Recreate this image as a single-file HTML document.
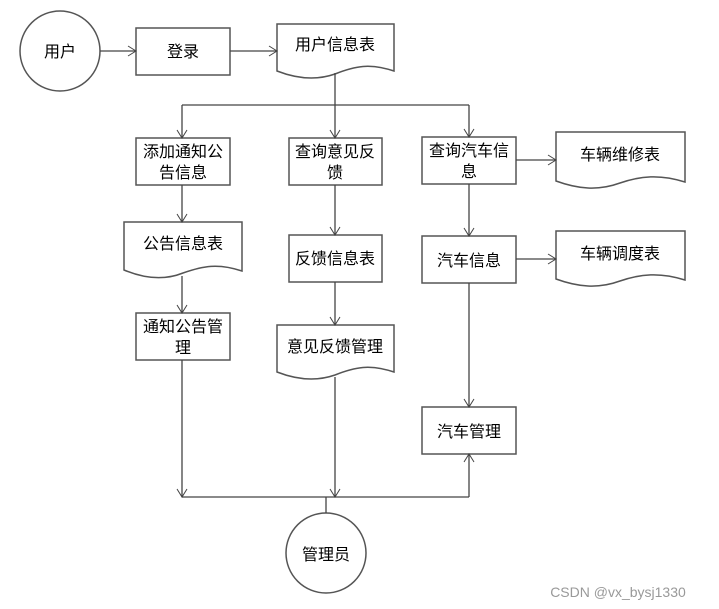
<!DOCTYPE html>
<html><head><meta charset="utf-8"><style>
html,body{margin:0;padding:0;background:#fff;}
svg{display:block;}
text{font-family:"Liberation Sans","Noto Sans CJK SC","WenQuanYi Zen Hei",sans-serif;font-size:16px;fill:#000;text-anchor:middle;}
</style></head><body>
<svg width="719" height="609" viewBox="0 0 719 609" xmlns="http://www.w3.org/2000/svg">
<defs>
<marker id="a" markerWidth="12" markerHeight="12" refX="10" refY="6" orient="auto" markerUnits="userSpaceOnUse">
<path d="M2,1 L10,6 L2,11" fill="none" stroke="#444" stroke-width="1"/>
</marker>
</defs>
<g fill="#fff" stroke="#555" stroke-width="1.5">
<circle cx="60" cy="51" r="40"/>
<rect x="136" y="28" width="94" height="47"/>
<path d="M277,24 L394,24 L394,71 C370,63 355,66 335,74 C315,81 295,78 277,71 Z"/>
<rect x="136" y="138" width="94" height="47"/>
<rect x="289" y="138" width="93" height="47"/>
<rect x="422" y="137" width="94" height="47"/>
<path d="M556,132 L685,132 L685,182 C660,174 640,176 620,183 C598,191 578,189 556,181 Z"/>
<path d="M124,222 L242,222 L242,271 C218,263 203,266 183,273 C163,281 143,278 124,270 Z"/>
<rect x="289" y="235" width="93" height="47"/>
<rect x="422" y="236" width="94" height="47"/>
<path d="M556,231 L685,231 L685,280 C660,272 640,274 620,281 C598,289 578,287 556,279 Z"/>
<rect x="136" y="313" width="94" height="47"/>
<path d="M277,325 L394,325 L394,372 C370,364 355,367 335,375 C315,382 295,379 277,372 Z"/>
<rect x="422" y="407" width="94" height="47"/>
<circle cx="326" cy="553" r="40"/>
</g>
<g fill="none" stroke="#444" stroke-width="1.3">
<line x1="100" y1="51" x2="136" y2="51" marker-end="url(#a)"/>
<line x1="230" y1="51" x2="277" y2="51" marker-end="url(#a)"/>
<line x1="335" y1="73" x2="335" y2="105"/>
<line x1="182" y1="105" x2="469" y2="105"/>
<line x1="182" y1="105" x2="182" y2="138" marker-end="url(#a)"/>
<line x1="335" y1="105" x2="335" y2="138" marker-end="url(#a)"/>
<line x1="469" y1="105" x2="469" y2="137" marker-end="url(#a)"/>
<line x1="516" y1="160" x2="556" y2="160" marker-end="url(#a)"/>
<line x1="182" y1="185" x2="182" y2="222" marker-end="url(#a)"/>
<line x1="335" y1="185" x2="335" y2="235" marker-end="url(#a)"/>
<line x1="469" y1="184" x2="469" y2="236" marker-end="url(#a)"/>
<line x1="516" y1="259" x2="556" y2="259" marker-end="url(#a)"/>
<line x1="182" y1="276" x2="182" y2="313" marker-end="url(#a)"/>
<line x1="335" y1="282" x2="335" y2="325" marker-end="url(#a)"/>
<line x1="469" y1="283" x2="469" y2="407" marker-end="url(#a)"/>
<line x1="182" y1="360" x2="182" y2="497" marker-end="url(#a)"/>
<line x1="335" y1="377" x2="335" y2="497" marker-end="url(#a)"/>
<line x1="182" y1="497" x2="469" y2="497"/>
<line x1="469" y1="497" x2="469" y2="454" marker-end="url(#a)"/>
<line x1="326" y1="497" x2="326" y2="513"/>
</g>
<text x="60" y="57">用户</text>
<text x="183" y="57">登录</text>
<text x="335" y="50">用户信息表</text>
<text x="183" y="157">添加通知公</text>
<text x="183" y="178">告信息</text>
<text x="335" y="157">查询意见反</text>
<text x="335" y="178">馈</text>
<text x="469" y="156">查询汽车信</text>
<text x="469" y="177">息</text>
<text x="620" y="160">车辆维修表</text>
<text x="183" y="249">公告信息表</text>
<text x="335" y="264">反馈信息表</text>
<text x="469" y="266">汽车信息</text>
<text x="620" y="259">车辆调度表</text>
<text x="183" y="332">通知公告管</text>
<text x="183" y="353">理</text>
<text x="335" y="352">意见反馈管理</text>
<text x="469" y="437">汽车管理</text>
<text x="326" y="560">管理员</text>
<text x="618" y="597" style="font-size:14px;fill:#999;">CSDN @vx_bysj1330</text>
</svg>
</body></html>
